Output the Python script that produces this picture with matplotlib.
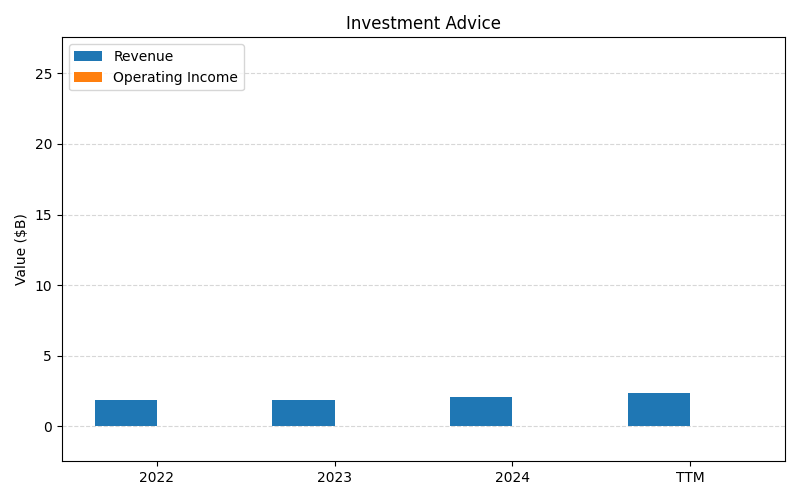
import numpy as np
import matplotlib.pyplot as plt

years = ['2022', '2023', '2024', 'TTM']
revenue = [1.85, 1.85, 2.1, 2.35]
operating_income = [0.0, 0.0, 0.0, 0.0]

x = np.arange(len(years))
width = 0.35

fig, ax = plt.subplots(figsize=(8, 5), dpi=100)
ax.bar(x - width/2, revenue, width, label='Revenue', color='#1f77b4')
ax.bar(x + width/2, operating_income, width, label='Operating Income', color='#ff7f0e')

ax.set_xticks(x)
ax.set_xticklabels(years)
ax.set_ylabel('Value ($B)')
ax.set_title('Investment Advice')
ax.set_ylim(-2.49, 27.56)
ax.grid(axis='y', linestyle='--', alpha=0.5)
ax.legend(loc='upper left')

plt.tight_layout()
fig.savefig('out.png')
